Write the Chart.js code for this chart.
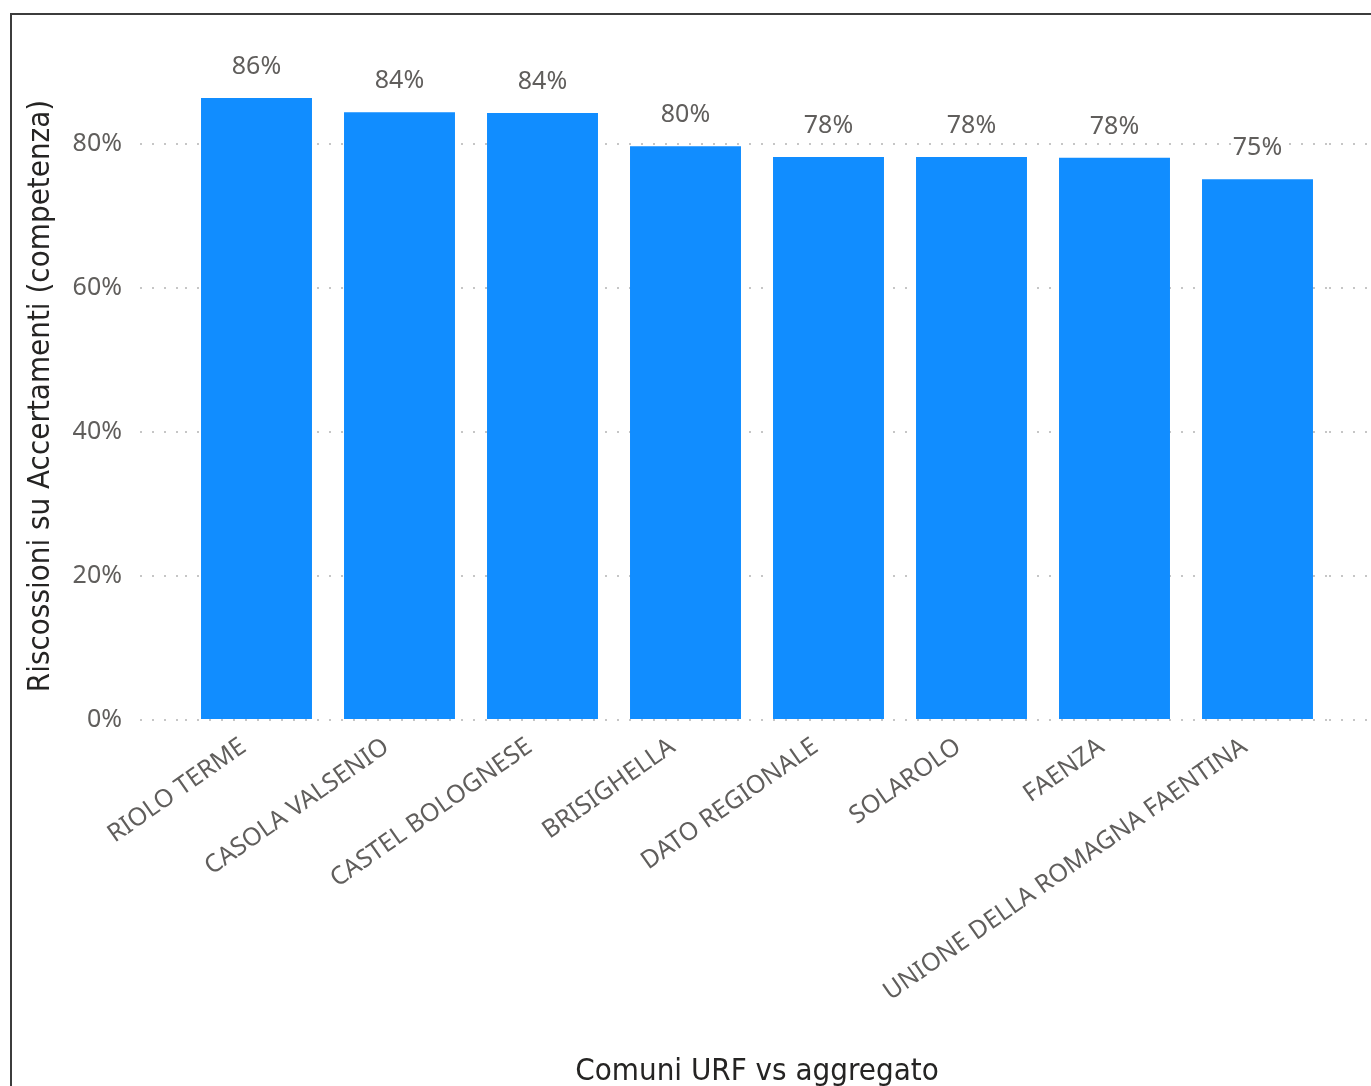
<!DOCTYPE html>
<html>
<head>
<meta charset="utf-8">
<script src="https://cdn.jsdelivr.net/npm/chart.js@4/dist/chart.umd.min.js"></script>
<style>
  html, body { margin: 0; padding: 0; background: #fff; overflow: hidden; }
  #frame { position: absolute; left: 10px; top: 13px; width: 1400px; height: 1100px;
           border-left: 2px solid #3c3c3c; border-top: 2px solid #3c3c3c; }
  #wrap { position: absolute; left: 0; top: 0; width: 1371px; height: 1086px; }
</style>
</head>
<body>
<div id="frame"></div>
<div id="wrap"><canvas id="myChart"></canvas></div>
<script>
const comuni = [
  'RIOLO TERME',
  'CASOLA VALSENIO',
  'CASTEL BOLOGNESE',
  'BRISIGHELLA',
  'DATO REGIONALE',
  'SOLAROLO',
  'FAENZA',
  'UNIONE DELLA ROMAGNA FAENTINA'
];
const riscossioni = [86.4, 84.4, 84.3, 79.7, 78.2, 78.2, 78.1, 75.1];
const yTicks = [0, 20, 40, 60, 80];

const textGray = '#605E5C';
const gridGray = '#c6c6c6';
const labelFont = { family: 'Noto Sans', size: 25 };

// etichette sopra le barre
const barLabels = {
  id: 'barLabels',
  afterDatasetsDraw(chart) {
    const c = chart.ctx;
    const meta = chart.getDatasetMeta(0);
    c.save();
    c.fillStyle = textGray;
    c.font = '25px "Noto Sans"';
    c.textAlign = 'center';
    c.textBaseline = 'middle';
    meta.data.forEach((bar, i) => {
      c.fillText(Math.round(riscossioni[i]) + '%', bar.x, bar.y - 31);
    });
    c.restore();
  }
};

const keepTicks = (scale) => {
  scale.ticks = scale.ticks.filter(t => yTicks.includes(t.value));
};

const ctx = document.getElementById('myChart').getContext('2d');
const myChart = new Chart(ctx, {
  type: 'bar',
  data: {
    labels: comuni,
    datasets: [{
      data: riscossioni,
      backgroundColor: '#118DFF',
      borderWidth: 0,
      categoryPercentage: 1,
      barPercentage: 0.776
    }]
  },
  options: {
    responsive: true,
    maintainAspectRatio: false,
    animation: false,
    layout: { padding: { top: 72, left: 22, right: 0, bottom: 0 } },
    plugins: {
      legend: { display: false },
      tooltip: { enabled: false }
    },
    scales: {
      x: {
        grid: { display: false, drawTicks: false },
        border: { display: false },
        ticks: {
          color: textGray,
          font: labelFont,
          minRotation: 35,
          maxRotation: 35,
          padding: 12,
          labelOffset: -13,
          autoSkip: false
        },
        title: {
          display: true,
          text: 'Comuni URF vs aggregato',
          color: '#252423',
          font: { family: 'DejaVu Sans Condensed', size: 31 },
          padding: { top: 0, bottom: -5 }
        },
        afterFit(scale) { scale.height = 366; }
      },
      y: {
        min: 0,
        max: 90,
        afterBuildTicks: keepTicks,
        border: { display: false, dash: [2, 10] },
        grid: {
          color: gridGray,
          lineWidth: 2,
          tickBorderDash: [2, 10],
          tickLength: 45,
          tickColor: gridGray
        },
        ticks: {
          stepSize: 20,
          color: textGray,
          font: labelFont,
          padding: 18,
          callback: (v) => v + '%'
        },
        title: {
          display: true,
          text: 'Riscossioni su Accertamenti (competenza)',
          color: '#252423',
          font: { family: 'DejaVu Sans Condensed', size: 31 },
          padding: 0
        },
        afterFit(scale) { scale.width = 163; }
      },
      y2: {
        position: 'right',
        min: 0,
        max: 90,
        afterBuildTicks: keepTicks,
        border: { display: false },
        grid: {
          drawOnChartArea: false,
          color: gridGray,
          lineWidth: 2,
          tickBorderDash: [2, 10],
          tickLength: 42,
          tickColor: gridGray
        },
        ticks: { display: false, stepSize: 20 },
        afterFit(scale) { scale.width = 42; }
      }
    }
  },
  plugins: [barLabels]
});
</script>
</body>
</html>
